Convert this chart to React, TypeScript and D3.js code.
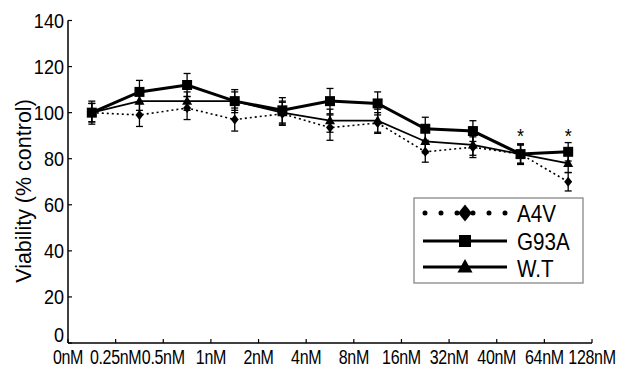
import React from "react";
import * as d3 from "d3";

// dose labels on the x axis (12 labels, 11 measured points in between)
const doses = ["0nM", "0.25nM", "0.5nM", "1nM", "2nM", "4nM", "8nM", "16nM", "32nM", "40nM", "64nM", "128nM"];

const a4v = [100, 99, 102, 97, 99.5, 93.5, 95.5, 83, 85, 82, 70];
const a4vErr = [4, 5, 5, 5, 5, 5.5, 4.5, 4.5, 4.5, 4, 4];
const g93a = [100, 109, 112, 105, 101, 105, 104, 93, 92, 82, 83];
const g93aErr = [5, 5, 5, 5, 5.5, 5.5, 5, 5, 4.5, 4.5, 4];
const wt = [100, 105, 105, 105, 100, 96.5, 96.5, 87.5, 86, 82, 78];
const wtErr = [4, 4, 4, 4, 5, 5, 5, 5, 4.5, 4, 4];

const yTicks = [0, 20, 40, 60, 80, 100, 120, 140];
const starIdx = [9, 10];
const starValue = 89;

const W = 626;
const H = 371;

const x = d3.scaleLinear().domain([0, doses.length - 1]).range([68, 592]);
const y = d3.scaleLinear().domain([0, 140]).range([343, 20.5]);
const px = (i: number) => x(i + 0.5);

const line = d3
  .line<number>()
  .x((_, i) => px(i))
  .y((d) => y(d));

const Marker = ({ kind, cx, cy, s }: { kind: string; cx: number; cy: number; s: number }) => {
  if (kind === "square")
    return <rect x={cx - s / 2} y={cy - s / 2} width={s} height={s} fill="#000" />;
  if (kind === "triangle") {
    const h = s * 0.9;
    return <path d={`M${cx},${cy - h * 0.6}L${cx + s / 2},${cy + h * 0.4}L${cx - s / 2},${cy + h * 0.4}Z`} fill="#000" />;
  }
  const r = s / 2;
  return <path d={`M${cx},${cy - r}L${cx + r * 0.8},${cy}L${cx},${cy + r}L${cx - r * 0.8},${cy}Z`} fill="#000" />;
};

// horizontally squeezed text, like the reference's narrow lettering
const Txt = ({ x: tx, y: ty, size, anchor, sq = 0.86, spacing, children }: any) => (
  <text
    transform={`translate(${tx},${ty}) scale(${sq},1)`}
    fontSize={size}
    textAnchor={anchor}
    letterSpacing={spacing}
    fill="#000"
  >
    {children}
  </text>
);

const series = [
  { name: "A4V", vals: a4v, err: a4vErr, kind: "diamond", width: 1.6, dash: "2,3", ms: 10 },
  { name: "W.T", vals: wt, err: wtErr, kind: "triangle", width: 1.7, dash: undefined, ms: 10 },
  { name: "G93A", vals: g93a, err: g93aErr, kind: "square", width: 3, dash: undefined, ms: 10 },
];

const legendRows = [
  { name: "A4V", kind: "diamond", ty: 222, ly: 213, ms: 17 },
  { name: "G93A", kind: "square", ty: 250, ly: 241, ms: 12 },
  { name: "W.T", kind: "triangle", ty: 277, ly: 267, ms: 15 },
];

export default function App() {
  return (
    <svg
      width={W}
      height={H}
      style={{ position: "absolute", left: 0, top: 0, background: "#fff" }}
      fontFamily="'Liberation Sans', Arial, sans-serif"
    >
      {/* axes */}
      <line x1={x(0)} x2={x(0)} y1={y(140)} y2={y(0)} stroke="#000" strokeWidth={1.5} />
      <line x1={x(0)} x2={x(doses.length - 1)} y1={y(0)} y2={y(0)} stroke="#000" strokeWidth={1.5} />
      {yTicks.map((t) => (
        <g key={t}>
          <line x1={x(0)} x2={x(0) + 4} y1={y(t)} y2={y(t)} stroke="#000" strokeWidth={1.2} />
          <Txt x={64} y={Math.min(y(t) + 7.5, 342)} size={21} anchor="end">
            {t}
          </Txt>
        </g>
      ))}
      {doses.map((d, i) => (
        <g key={d}>
          <line x1={x(i)} x2={x(i)} y1={y(0)} y2={y(0) - 4} stroke="#000" strokeWidth={1.2} />
          <Txt x={x(i)} y={364} size={20} anchor="middle" sq={0.8} spacing={-0.4}>
            {d}
          </Txt>
        </g>
      ))}
      <text
        transform="translate(31,191) rotate(-90)"
        fontSize={21.5}
        textAnchor="middle"
        fill="#000"
      >
        Viability (% control)
      </text>

      {/* series */}
      {series.map((s) => (
        <g key={s.name}>
          {s.vals.map((v, i) => {
            const cx = px(i);
            return (
              <g key={i} stroke="#000" strokeWidth={1.3}>
                <line x1={cx} x2={cx} y1={y(v + s.err[i])} y2={y(v - s.err[i])} />
                <line x1={cx - 3.5} x2={cx + 3.5} y1={y(v + s.err[i])} y2={y(v + s.err[i])} />
                <line x1={cx - 3.5} x2={cx + 3.5} y1={y(v - s.err[i])} y2={y(v - s.err[i])} />
              </g>
            );
          })}
          <path
            d={line(s.vals) || ""}
            fill="none"
            stroke="#000"
            strokeWidth={s.width}
            strokeDasharray={s.dash}
          />
          {s.vals.map((v, i) => (
            <Marker key={i} kind={s.kind} cx={px(i)} cy={y(v)} s={s.ms} />
          ))}
        </g>
      ))}

      {starIdx.map((i) => (
        <Txt key={i} x={px(i)} y={y(starValue) + 5} size={21} anchor="middle">
          *
        </Txt>
      ))}

      {/* legend */}
      <rect x={414} y={198} width={169} height={85} fill="#fff" stroke="#888" strokeWidth={1.3} />
      {legendRows.map((r) => (
        <g key={r.name}>
          {r.kind === "diamond" ? (
            <line
              x1={425}
              x2={506}
              y1={r.ly}
              y2={r.ly}
              stroke="#000"
              strokeWidth={5}
              strokeLinecap="round"
              strokeDasharray="0,16"
            />
          ) : (
            <line x1={423} x2={507} y1={r.ly} y2={r.ly} stroke="#000" strokeWidth={2.8} />
          )}
          <Marker kind={r.kind} cx={465} cy={r.ly} s={r.ms} />
          <Txt x={517} y={r.ty} size={24} anchor="start">
            {r.name}
          </Txt>
        </g>
      ))}
    </svg>
  );
}
